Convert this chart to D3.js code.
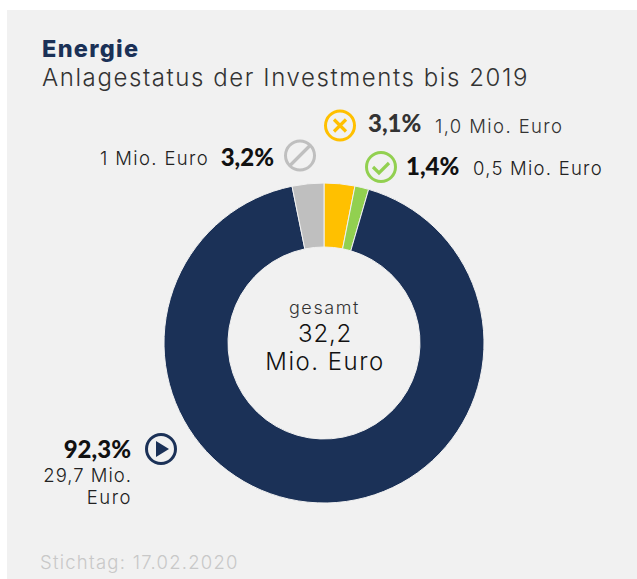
<!DOCTYPE html>
<html><head><meta charset="utf-8">
<script src="https://cdn.jsdelivr.net/npm/d3@7"></script>
<style>html,body{margin:0;padding:0;background:#fff}svg{display:block}text{font-family:Inter,sans-serif}</style>
</head><body><div id="c"></div>
<script>
const categories=["abgelehnt","genehmigt","aktiv","inaktiv"];
const shares=[3.1,1.4,92.3,3.2];
const shareLabels=["3,1%","1,4%","92,3%","3,2%"];
const amounts=["1,0 Mio. Euro","0,5 Mio. Euro","29,7 Mio. Euro","1 Mio. Euro"];
const colors=["#ffc000","#92d050","#1b3157","#bfbfbf"];
const W=637,H=579,cx=324,cy=343;
const svg=d3.select("#c").append("svg").attr("width",W).attr("height",H);
svg.append("rect").attr("x",7).attr("y",10).attr("width",630).attr("height",569).attr("fill","#f1f1f1");
const t=(x,y,s,size,fill,w,anchor,ls)=>svg.append("text").attr("x",x).attr("y",y).text(s).attr("font-size",size).attr("fill",fill).attr("font-weight",w||400).attr("text-anchor",anchor||"start").attr("letter-spacing",ls||0);
const bold=(x,y,s,fill,anchor)=>t(x,y,s,24,fill,900,anchor).style("font-family","Lato,sans-serif");
t(42,56.5,"Energie",23.5,"#1b3157",800,"start",1.3);
t(42,86,"Anlagestatus der Investments bis 2019",24,"#333",300,"start",1.58);
const pie=d3.pie().sort(null).value(d=>d)(shares);
const arc=d3.arc().innerRadius(96).outerRadius(160);
svg.append("g").attr("transform",`translate(${cx},${cy})`).selectAll("path").data(pie).join("path")
 .attr("d",arc).attr("fill",(d,i)=>colors[i]).attr("stroke","#f1f1f1").attr("stroke-width",1);
t(cx+0.5,314,"gesamt",18,"#333",300,"middle",1.6);
t(cx+1,342,"32,2",24,"#111",300,"middle",0.75);
t(cx+1,370,"Mio. Euro",24,"#111",300,"middle",1.5);
function icon(x,y,col,kind){
 const g=svg.append("g").attr("transform",`translate(${x},${y})`);
 g.append("circle").attr("r",14.5).attr("fill","none").attr("stroke",col).attr("stroke-width",3);
 const st=p=>g.append("path").attr("d",p).attr("fill","none").attr("stroke",col).attr("stroke-width",3.2);
 if(kind=="x")st("M-6,-6L6,6M6,-6L-6,6");
 if(kind=="c")st("M-8,0L-2,6L8,-4");
 if(kind=="n")st("M-10,10L10,-10");
 if(kind=="p")g.append("path").attr("d","M-5,-8L8,0L-5,8Z").attr("fill",col);
}
icon(340,125.5,colors[0],"x");
bold(368,132,shareLabels[0],"#333");
t(435,133,amounts[0],18.5,"#333",300,"start",1.4);
icon(381,167,colors[1],"c");
bold(406,175,shareLabels[1],"#111");
t(473,175,amounts[1],18.5,"#222",300,"start",1.25);
icon(300,155.5,colors[3],"n");
bold(274,166,shareLabels[3],"#111","end");
t(209,165,amounts[3],18.5,"#222",300,"end",1.35);
icon(161,449,colors[2],"p");
bold(131,458,shareLabels[2],"#111","end");
const parts=amounts[2].split(" ");
t(132,482,parts[0]+" "+parts[1],18.5,"#222",300,"end",1);
t(132,504,parts[2],18.5,"#222",300,"end",1.5);
t(40,569,"Stichtag: 17.02.2020",18.5,"#c8c8c8",300,"start",1.25);
</script></body></html>
